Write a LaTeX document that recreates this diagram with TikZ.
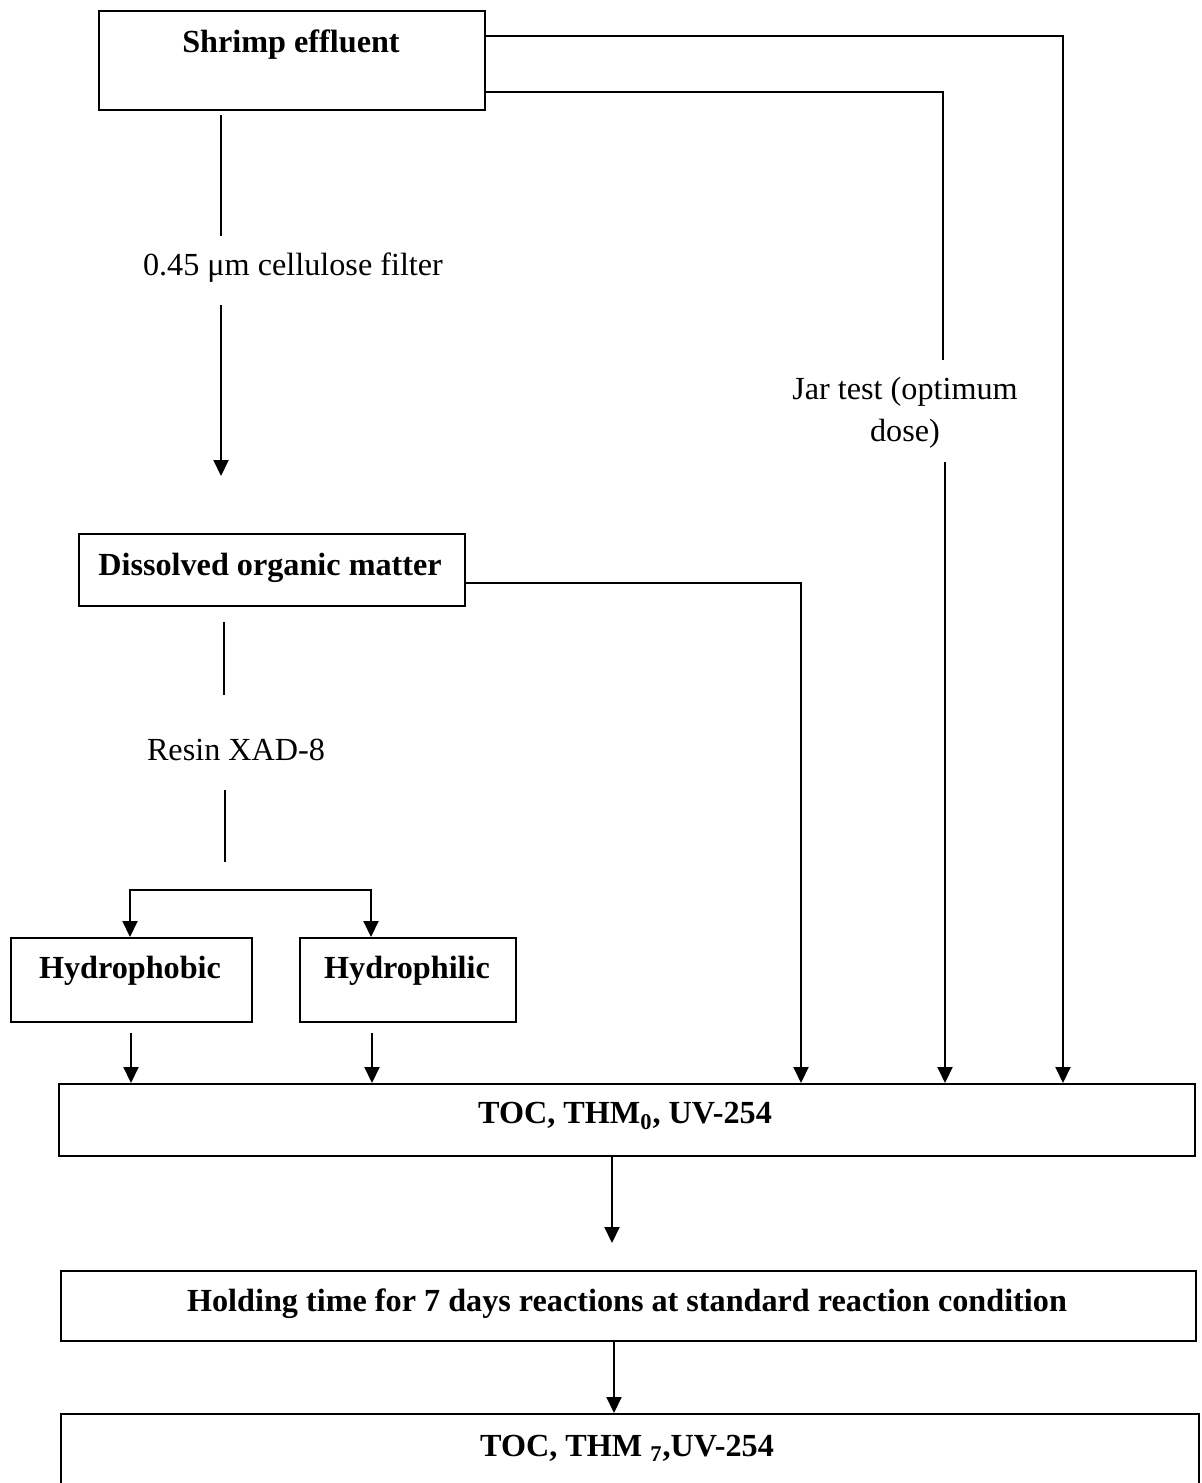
\documentclass[tikz,border=0pt]{standalone}
\usepackage{fontspec}
\setmainfont{Liberation Serif}
\usetikzlibrary{arrows.meta}
\begin{document}
\begin{tikzpicture}[x=0.5pt,y=-0.5pt,
  box/.style={draw,line width=1pt,inner sep=0pt,anchor=north west},
  btxt/.style={inner sep=0pt,font=\fontsize{16.1}{19}\selectfont\bfseries},
  rtxt/.style={inner sep=0pt,font=\fontsize{16.1}{21}\selectfont,align=center},
  conn/.style={line width=1pt},
  arr/.style={line width=1pt,-{Triangle[width=7.5pt,length=8pt]}},
  arrtwo/.style={line width=1pt,{Triangle[width=7.5pt,length=8pt]}-{Triangle[width=7.5pt,length=8pt]}}]
\clip (0,0) rectangle (1202,1483);
\fill[white] (0,0) rectangle (1202,1483);
% boxes
\node[box,minimum width=193pt,minimum height=49.5pt] (se) at (98,10) {};
\node[btxt] (setx) at (291,45) {Shrimp effluent};
\node[box,minimum width=193pt,minimum height=36pt] (dom) at (78,533) {};
\node[btxt] (domtx) at (270,568) {Dissolved organic matter};
\node[box,minimum width=120.5pt,minimum height=42pt] (hpo) at (10,937) {};
\node[btxt] (hpotx) at (130,971) {Hydrophobic};
\node[box,minimum width=108pt,minimum height=42pt] (hpi) at (299,937) {};
\node[btxt] (hpitx) at (407,971) {Hydrophilic};
\node[box,minimum width=568pt,minimum height=36pt] (toc) at (58,1083) {};
\node[btxt] (toctx) at (625,1116) {TOC, THM\textsubscript{0}, UV-254};
\node[box,minimum width=567.5pt,minimum height=35pt] (hold) at (60,1270) {};
\node[btxt] (holdtx) at (627,1304) {Holding time for 7 days reactions at standard reaction condition};
\node[box,minimum width=569pt,minimum height=60pt] (bot) at (60,1413) {};
\node[btxt] (bottx) at (627,1448) {TOC, THM \textsubscript{7},UV-254};
% labels
\node[rtxt] (filt) at (293,268) {0.45 μm cellulose filter};
\node[rtxt] (jar) at (905,413) {Jar test (optimum\\dose)};
\node[rtxt] (resin) at (236,750) {Resin XAD-8};
% coordinates
\coordinate (c1) at (1063,36);
\coordinate (c2) at (943,92);
\coordinate (j1) at (943,360);
\coordinate (j2) at (945,462);
\coordinate (f0) at (221,115);
\coordinate (f1) at (221,236);
\coordinate (f2) at (221,305);
\coordinate (f3) at (221,476);
\coordinate (d1) at (801,583);
\coordinate (r0) at (224,622);
\coordinate (r1) at (224,695);
\coordinate (r2) at (225,790);
\coordinate (r3) at (225,862);
\coordinate (sL) at (130,890);
\coordinate (sR) at (371,890);
\coordinate (h1) at (131,1033);
\coordinate (h2) at (372,1033);
\coordinate (t1) at (612,1243);
\coordinate (b1) at (614,1340);
% connectors
\draw[arr] (se.east |- c1) -- (c1) -- (toc.north -| c1);
\draw[conn] (se.east |- c2) -- (c2) -- (j1);
\draw[arr] (j2) -- (toc.north -| j2);
\draw[conn] (f0) -- (f1);
\draw[arr] (f2) -- (f3);
\draw[arr] (dom.east |- d1) -- (d1) -- (toc.north -| d1);
\draw[conn] (r0) -- (r1);
\draw[conn] (r2) -- (r3);
\draw[arrtwo] (hpo.north -| sL) -- (sL) -- (sR) -- (hpi.north -| sR);
\draw[arr] (h1) -- (toc.north -| h1);
\draw[arr] (h2) -- (toc.north -| h2);
\draw[arr] (toc.south -| t1) -- (t1);
\draw[arr] (hold.south -| b1) -- (bot.north -| b1);
\end{tikzpicture}
\end{document}
